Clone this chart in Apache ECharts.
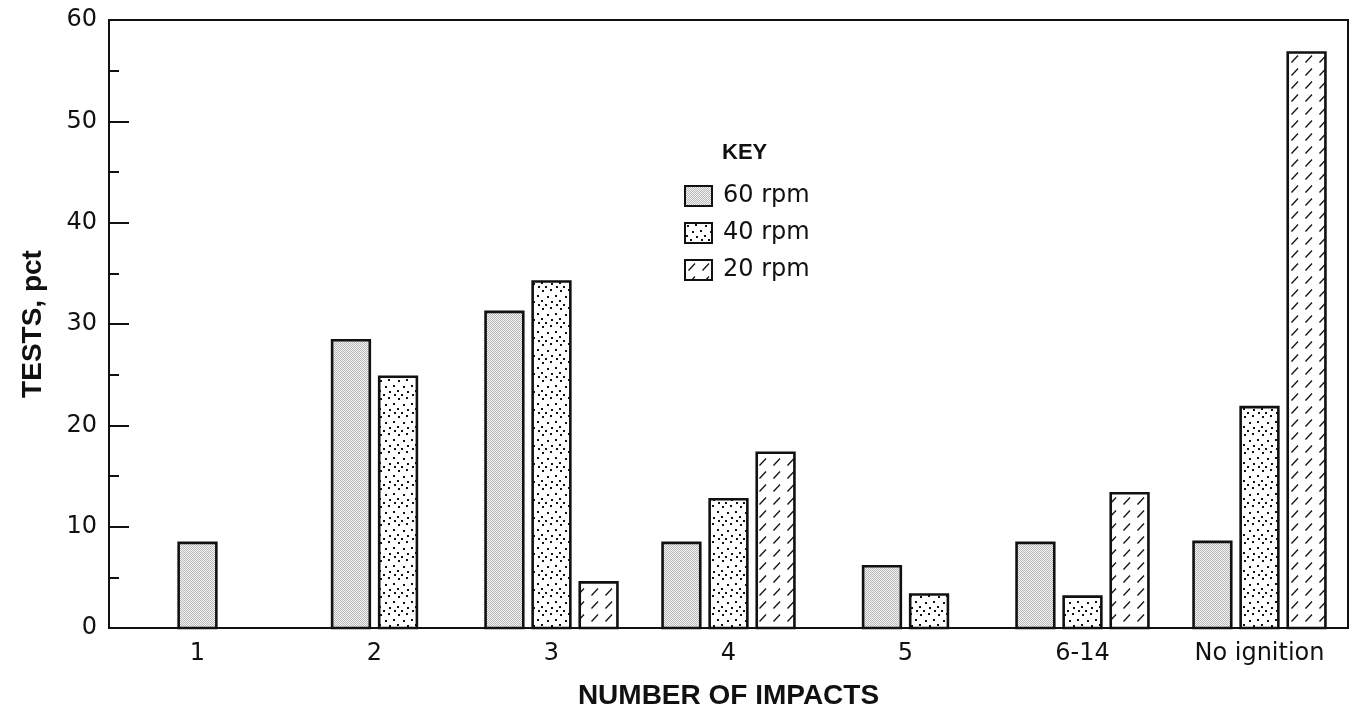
<!DOCTYPE html>
<html>
<head>
<meta charset="utf-8">
<script src="https://cdn.jsdelivr.net/npm/echarts@6/dist/echarts.min.js"></script>
<style>
html,body{margin:0;padding:0;background:#fff;}
#chart{width:1351px;height:706px;}
</style>
</head>
<body>
<div id="chart"></div>
<script>
// ---- data ----
const categories = ['1', '2', '3', '4', '5', '6-14', 'No ignition'];
const seriesNames = ['60 rpm', '40 rpm', '20 rpm'];
const rpm60 = [8.4, 28.4, 31.2, 8.4, 6.1, 8.4, 8.5];
const rpm40 = [null, 24.8, 34.2, 12.7, 3.3, 3.1, 21.8];
const rpm20 = [null, null, 4.5, 17.3, null, 13.3, 56.8];
const yTicks = [0, 10, 20, 30, 40, 50, 60];
const xTitle = 'NUMBER OF IMPACTS';
const yTitle = 'TESTS, pct';
const keyTitle = 'KEY';

const allSeries = [rpm60, rpm40, rpm20];

// ---- fill patterns ----
function makeCanvas(w, h) {
  const c = document.createElement('canvas');
  c.width = w; c.height = h;
  return c;
}
function stipplePattern() {
  const c = makeCanvas(2, 2);
  const g = c.getContext('2d');
  g.fillStyle = '#f4f4f4'; g.fillRect(0, 0, 2, 2);
  g.fillStyle = '#b8b8b8'; g.fillRect(0, 0, 1, 1); g.fillRect(1, 1, 1, 1);
  return c;
}
function dotPattern() {
  const c = makeCanvas(18, 18);
  const g = c.getContext('2d');
  g.fillStyle = '#ffffff'; g.fillRect(0, 0, 18, 18);
  g.fillStyle = '#111111';
  const dots = [[2, 2], [10, 1], [15, 7], [7, 8], [1, 12], [11, 13], [16, 16], [5, 16]];
  dots.forEach(d => g.fillRect(d[0], d[1], 2, 2));
  return c;
}
function hatchPattern() {
  const c = makeCanvas(14, 13);
  const g = c.getContext('2d');
  g.fillStyle = '#ffffff'; g.fillRect(0, 0, 14, 13);
  g.strokeStyle = '#111111'; g.lineWidth = 1.3;
  g.beginPath(); g.moveTo(3.5, 10.5); g.lineTo(10, 3.5); g.stroke();
  return c;
}
const patterns = [
  { image: stipplePattern(), repeat: 'repeat' },
  { image: dotPattern(), repeat: 'repeat' },
  { image: hatchPattern(), repeat: 'repeat' }
];

function makeRender(sIdx) {
  return function (params, api) {
    const ci = api.value(0);
    const v = api.value(1);
    const present = [];
    allSeries.forEach((arr, k) => { if (arr[ci] != null) present.push(k); });
    const n = present.length;
    const k = present.indexOf(sIdx);
    const band = api.size([1, 0])[0];
    const w = band * 0.213;
    const pitch = band * 0.266;
    const base = api.coord([ci, 0]);
    const top = api.coord([ci, v]);
    const cx = base[0] + (k - (n - 1) / 2) * pitch;
    return {
      type: 'rect',
      shape: { x: cx - w / 2, y: top[1], width: w, height: base[1] - top[1] },
      style: { fill: patterns[sIdx], stroke: '#111', lineWidth: 2.6 }
    };
  };
}

const series = allSeries.map((arr, sIdx) => ({
  type: 'custom',
  name: seriesNames[sIdx],
  renderItem: makeRender(sIdx),
  encode: { x: 0, y: 1 },
  itemStyle: { color: patterns[sIdx], borderColor: '#111', borderWidth: 2 },
  data: arr.map((v, i) => (v == null ? null : [i, v])).filter(d => d !== null),
  z: 3
}));

const chart = echarts.init(document.getElementById('chart'), null, { renderer: 'canvas' });
chart.setOption({
  backgroundColor: '#ffffff',
  animation: false,
  grid: {
    left: 109, right: 3, top: 20, bottom: 78,
    containLabel: false,
    outerBoundsMode: 'none',
    show: true, borderColor: '#111', borderWidth: 2, backgroundColor: 'transparent'
  },
  legend: {
    orient: 'vertical',
    left: 684, top: 184,
    padding: 0,
    itemWidth: 27, itemHeight: 20, itemGap: 13,
    icon: 'rect',
    data: seriesNames,
    textStyle: { fontFamily: 'DejaVu Sans', fontSize: 24, color: '#111', lineHeight: 24, padding: [0, 0, 0, 6] }
  },
  graphic: [{
    type: 'text',
    left: 722, top: 142,
    style: { text: keyTitle, font: 'bold 22px "Liberation Sans"', fill: '#111' }
  }],
  xAxis: {
    type: 'category',
    data: categories,
    name: xTitle,
    nameLocation: 'middle',
    nameGap: 54,
    nameTextStyle: { fontFamily: 'Liberation Sans', fontWeight: 'bold', fontSize: 28, color: '#111' },
    axisLine: { show: true, lineStyle: { color: '#111', width: 2 } },
    axisTick: { show: false },
    axisLabel: { fontFamily: 'DejaVu Sans', fontSize: 24, color: '#111', margin: 14 },
    splitLine: { show: false }
  },
  yAxis: {
    type: 'value',
    min: yTicks[0], max: yTicks[yTicks.length - 1], interval: 10,
    name: yTitle,
    nameLocation: 'middle',
    nameGap: 62,
    nameTextStyle: { fontFamily: 'Liberation Sans', fontWeight: 'bold', fontSize: 28, color: '#111' },
    axisLine: { show: true, lineStyle: { color: '#111', width: 2 } },
    axisTick: { show: true, inside: true, length: 20, lineStyle: { color: '#111', width: 2 } },
    minorTick: { show: true, splitNumber: 2, length: 10, lineStyle: { color: '#111', width: 2 } },
    axisLabel: { fontFamily: 'DejaVu Sans', fontSize: 24, color: '#111', margin: 12 },
    splitLine: { show: false }
  },
  series: series
});
</script>
</body>
</html>
